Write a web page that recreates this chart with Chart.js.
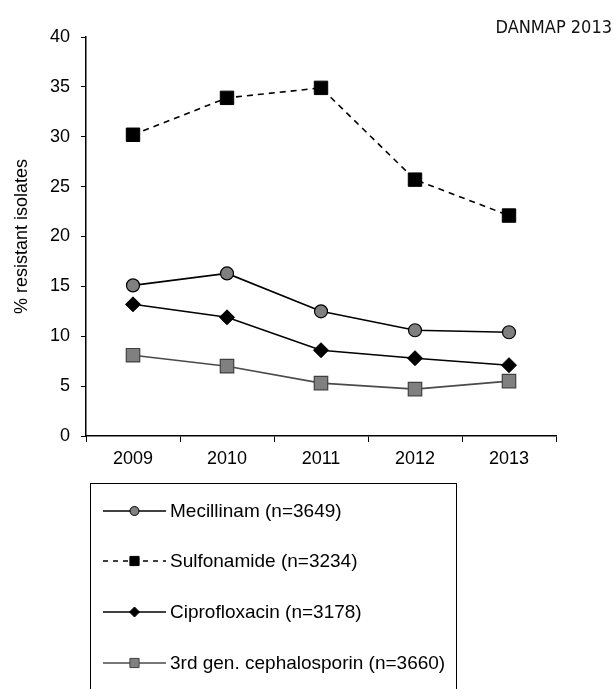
<!DOCTYPE html>
<html>
<head>
<meta charset="utf-8">
<script src="https://cdn.jsdelivr.net/npm/chart.js@4/dist/chart.umd.min.js"></script>
<style>
  html, body { margin: 0; padding: 0; background: #fff; }
  #wrap { position: relative; width: 614px; height: 689px; }
  #title { position: absolute; right: 2px; top: 16px; font-family: "DejaVu Sans Condensed", "DejaVu Sans", sans-serif; font-size: 18px; color: #111; }
</style>
</head>
<body>
<div id="wrap">
  <canvas id="resChart" width="614" height="689"></canvas>
  <div id="title">DANMAP 2013</div>
</div>
<script>
const years = ['2009', '2010', '2011', '2012', '2013'];
const mecillinam = [15.1, 16.3, 12.5, 10.6, 10.4];
const sulfonamide = [30.2, 33.9, 34.9, 25.7, 22.1];
const ciprofloxacin = [13.2, 11.9, 8.6, 7.8, 7.1];
const cephalosporin = [8.1, 7.0, 5.3, 4.7, 5.5];
const seriesNames = [
  'Mecillinam (n=3649)',
  'Sulfonamide (n=3234)',
  'Ciprofloxacin (n=3178)',
  '3rd gen. cephalosporin (n=3660)'
];

const font = 'Arial, "Liberation Sans", sans-serif';

// legend box under the axis, drawn by hand
const boxLegend = {
  id: 'boxLegend',
  afterDraw(chart) {
    const c = chart.ctx;
    c.save();
    c.strokeStyle = '#000';
    c.lineWidth = 1;
    c.strokeRect(90.5, 483.5, 366, 240);
    const rows = [511, 561, 612, 663];
    chart.data.datasets.forEach((ds, i) => {
      const y = rows[i];
      c.strokeStyle = ds.borderColor;
      c.lineWidth = ds.borderWidth;
      c.setLineDash(ds.legendDash || []);
      c.beginPath();
      c.moveTo(103, y);
      c.lineTo(166, y);
      c.stroke();
      c.setLineDash([]);
      c.fillStyle = ds.pointBackgroundColor;
      c.strokeStyle = ds.pointBorderColor;
      c.lineWidth = 1;
      Chart.helpers.drawPoint(c, {
        pointStyle: ds.pointStyle,
        radius: ds.legendRadius,
        borderWidth: 1
      }, 134.5, y);
      c.fillStyle = '#000';
      c.font = '19px ' + font;
      c.textBaseline = 'middle';
      c.fillText(ds.label, 170, y + 1);
    });
    c.restore();
  }
};

const ctx = document.getElementById('resChart').getContext('2d');
new Chart(ctx, {
  type: 'line',
  data: {
    labels: years,
    datasets: [{
      label: seriesNames[0],
      data: mecillinam,
      borderColor: '#000',
      borderWidth: 1.6,
      pointStyle: 'circle',
      pointRadius: 6.5,
      legendRadius: 4.5,
      pointBackgroundColor: '#808080',
      pointBorderColor: '#000',
      pointBorderWidth: 1.2
    }, {
      label: seriesNames[1],
      data: sulfonamide,
      borderColor: '#000',
      borderWidth: 1.6,
      borderDash: [6, 5],
      legendDash: [5, 5],
      pointStyle: 'rect',
      pointRadius: 9.5,
      legendRadius: 6.5,
      pointBackgroundColor: '#000',
      pointBorderColor: '#000',
      pointBorderWidth: 1
    }, {
      label: seriesNames[2],
      data: ciprofloxacin,
      borderColor: '#000',
      borderWidth: 1.6,
      pointStyle: 'rectRot',
      pointRadius: 7.5,
      legendRadius: 5,
      pointBackgroundColor: '#000',
      pointBorderColor: '#000',
      pointBorderWidth: 1
    }, {
      label: seriesNames[3],
      data: cephalosporin,
      borderColor: '#4a4a4a',
      borderWidth: 1.6,
      pointStyle: 'rect',
      pointRadius: 9.5,
      legendRadius: 6.5,
      pointBackgroundColor: '#808080',
      pointBorderColor: '#404040',
      pointBorderWidth: 1.2
    }]
  },
  options: {
    responsive: false,
    animation: false,
    layout: { padding: { left: 0, top: 37, right: 58, bottom: 0 } },
    plugins: {
      legend: { display: false },
      tooltip: { enabled: false }
    },
    scales: {
      x: {
        offset: true,
        grid: {
          display: true, drawOnChartArea: false, offset: true,
          color: '#000', tickLength: 6, tickWidth: 1
        },
        border: { display: true, color: '#000', width: 1.5 },
        ticks: { color: '#000', font: { family: font, size: 18 }, padding: 6 },
        afterFit(scale) { scale.height = 253; }
      },
      y: {
        min: 0,
        max: 40,
        ticks: { stepSize: 5, color: '#000', font: { family: font, size: 18 }, padding: 11 },
        grid: {
          display: true, drawOnChartArea: false,
          color: '#000', tickLength: 5, tickWidth: 1
        },
        border: { display: true, color: '#000', width: 1.5 },
        title: {
          display: true,
          text: '% resistant isolates',
          color: '#000',
          font: { family: font, size: 18 },
          padding: { top: 11, bottom: 0 }
        },
        afterFit(scale) { scale.width = 86; }
      }
    }
  },
  plugins: [boxLegend]
});
</script>
</body>
</html>
